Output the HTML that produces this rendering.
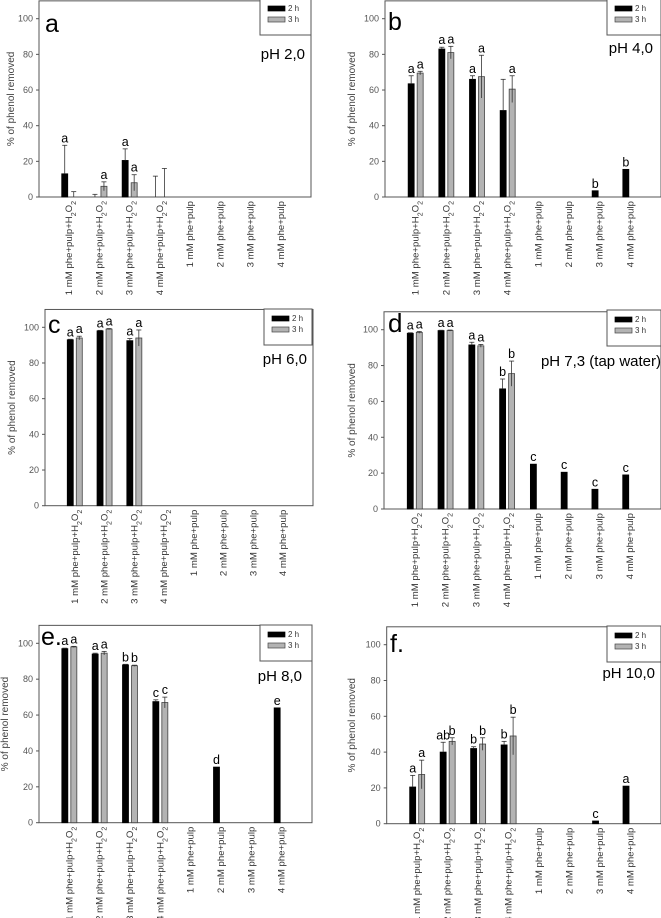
<!DOCTYPE html>
<html><head><meta charset="utf-8"><style>
html,body{margin:0;padding:0;background:#fff;}
svg{display:block;font-family:"Liberation Sans",Arial,sans-serif;}
</style></head><body>
<svg id="fig" width="661" height="918" viewBox="0 0 661 918" xmlns="http://www.w3.org/2000/svg"></svg>
<script>
const categories = ["1 mM phe+pulp+H2O2","2 mM phe+pulp+H2O2","3 mM phe+pulp+H2O2","4 mM phe+pulp+H2O2","1 mM phe+pulp","2 mM phe+pulp","3 mM phe+pulp","4 mM phe+pulp"];
const yTicks = [0,20,40,60,80,100];
const seriesNames = ["2 h","3 h"];

const aVal2h = [13,0,20.5,0,0,0,0,0];
const aErr2h = [16,1.5,6.5,11.7,0,0,0,0];
const aVal3h = [0,6,8,0,0,0,0,0];
const aErr3h = [3,2.5,4.5,16,0,0,0,0];
const aLet2h = ["a","","a","","","","",""];
const aLet3h = ["","a","a","","","","",""];

const bVal2h = [63.5,83,66,48.5,0,0,3.5,15.5];
const bErr2h = [4.5,1,2,17.5,0,0,0,0];
const bVal3h = [69.5,81,67.5,60.5,0,0,0,0];
const bErr3h = [1,3.5,12,7.5,0,0,0,0];
const bLet2h = ["a","a","a","","","","b","b"];
const bLet3h = ["a","a","a","a","","","",""];

const cVal2h = [93,98,92.5,0,0,0,0,0];
const cErr2h = [0.3,0.3,1.2,0,0,0,0,0];
const cVal3h = [94,99,94,0,0,0,0,0];
const cErr3h = [1,0.3,4.5,0,0,0,0,0];
const cLet2h = ["a","a","a","","","","",""];
const cLet3h = ["a","a","a","","","","",""];

const dVal2h = [98,99.5,91.5,67,25,20.5,11,19];
const dErr2h = [0.3,0.2,1.5,5.5,0,0,0,0];
const dVal3h = [98.5,99.5,91,75.5,0,0,0,0];
const dErr3h = [0.5,0.3,0.8,7,0,0,0,0];
const dLet2h = ["a","a","a","b","c","c","c","c"];
const dLet3h = ["a","a","a","b","","","",""];

const eVal2h = [97,94,88,67.5,0,31,0,64];
const eErr2h = [0.3,0.5,0.3,1,0,0,0,0];
const eVal3h = [98,94.5,87.5,67,0,0,0,0];
const eErr3h = [0.3,1,0.3,3,0,0,0,0];
const eLet2h = ["a","a","b","c","","d","","e"];
const eLet3h = ["a","a","b","c","","","",""];

const fVal2h = [20.5,40,42,44,0,0,1.5,21];
const fErr2h = [6.5,5.5,1,2,0,0,0,0];
const fVal3h = [27.5,46,44.5,49,0,0,0,0];
const fErr3h = [8,2,3.5,10.5,0,0,0,0];
const fLet2h = ["a","ab","b","b","","","c","a"];
const fLet3h = ["a","b","b","b","","","",""];

const NS = "http://www.w3.org/2000/svg";
const svg = document.getElementById("fig");
function mk(tag, attrs, parent){
  const e = document.createElementNS(NS, tag);
  for (const k in attrs) e.setAttribute(k, attrs[k]);
  (parent||svg).appendChild(e);
  return e;
}
function catLabel(parent, text, x, y){
  const t = mk("text",{x:x,y:y,transform:"rotate(-90 "+x+" "+y+")","text-anchor":"end","font-size":"9.6",fill:"#333"},parent);
  
  
  if (text.endsWith("H2O2")){
    t.appendChild(document.createTextNode(text.slice(0,-4)+"H"));
    const s1 = mk("tspan",{"baseline-shift":"sub","font-size":"7"},t); s1.textContent="2";
    const o = mk("tspan",{},t); o.textContent="O";
    const s2 = mk("tspan",{"baseline-shift":"sub","font-size":"7"},t); s2.textContent="2";
  } else t.textContent = text;
}

function panel(p){
  const g = mk("g",{});
  
  
  const yS = v => p.y0 - (p.y0 - p.y100) * v / 100;
  const slot = (p.x1 - p.x0) / 9;
  const xS = i => p.x0 + slot * (i + 1);
  const top = yS(110);
  const fr = mk("rect",{x:p.x0,y:top,width:p.x1-p.x0,height:p.y0-top,fill:"none",stroke:"#555","stroke-width":"1"},g);
  
  
  yTicks.forEach(v=>{
    const y = yS(v);
    const tk = mk("line",{x1:p.x0-3,x2:p.x0,y1:y,y2:y,stroke:"#555"},g);
    
    
    const tl = mk("text",{x:p.x0-6,y:y+3,"text-anchor":"end","font-size":"9",fill:"#555"},g);
    
    
    tl.textContent = v;
  });
  const yt = mk("text",{x:p.ytx,y:(p.y0+top)/2,transform:"rotate(-90 "+p.ytx+" "+((p.y0+top)/2)+")","text-anchor":"middle","font-size":"10",fill:"#444"},g);
  
  
  yt.textContent = "% of phenol removed";
  const bw = 6;
  const series = [[p.v2,p.e2,p.l2,"#000",-4.5],[p.v3,p.e3,p.l3,"#b3b3b3",4.5]];
  series.forEach((s,si)=>{
    s[0].forEach((v,i)=>{
      const cx = xS(i) + s[4];
      const yv = yS(v);
      if (v > 0){
        const r = mk("rect",{x:cx-bw/2,y:yv,width:bw,height:p.y0-yv,fill:s[3],stroke:si?"#444":"#000","stroke-width":"0.8"},g);
        
        
      }
      const e = s[1][i];
      let topY = yv;
      if (e > 0){
        const ye = yS(v+e);
        topY = ye;
        const y2 = si && v > 0 ? yS(Math.max(0,v-e)) : yv;
        const el = mk("line",{x1:cx,x2:cx,y1:ye,y2:y2,stroke:"#333","stroke-width":"0.8"},g);
        
        
        const cap = mk("line",{x1:cx-2.5,x2:cx+2.5,y1:ye,y2:ye,stroke:"#333","stroke-width":"0.8"},g);
        
        
      }
      const L = s[2][i];
      if (L){
        const lt = mk("text",{x:cx,y:topY-3,"text-anchor":"middle","font-size":"12.5",fill:"#000"},g);
        
        
        lt.textContent = L;
      }
    });
  });
  categories.forEach((c,i)=>catLabel(g,c,xS(i)+3,p.y0+4));
  const pl = mk("text",{x:p.lx,y:p.ly,"font-size":p.lsize||"25",fill:"#000"},g);
  
  
  pl.textContent = p.letter;
  const ph = mk("text",{x:p.phx,y:p.phy,"text-anchor":"end","font-size":"15",fill:"#000"},g);
  
  
  ph.textContent = p.ph;
  const lg = mk("g",{},g);
  
  
  mk("rect",{x:p.lgx,y:p.lgy,width:p.lgw,height:36,fill:"#fff",stroke:"#555","stroke-width":"1"},lg);
  seriesNames.forEach((n,si)=>{
    const sw = mk("rect",{x:p.lgx+8,y:p.lgy+11+si*11-4,width:17,height:5,fill:si?"#b3b3b3":"#000",stroke:si?"#444":"#000","stroke-width":"0.7"},lg);
    
    
    const tx = mk("text",{x:p.lgx+28,y:p.lgy+11+si*11+1,"font-size":"8",fill:"#333"},lg);
    
    
    tx.textContent = n;
  });
}

panel({id:"a",x0:39,x1:311,y0:197,y100:18.7,ytx:14,v2:aVal2h,e2:aErr2h,v3:aVal3h,e3:aErr3h,l2:aLet2h,l3:aLet3h,letter:"a",lx:45,ly:32,phx:305,phy:59,ph:"pH 2,0",lgx:260,lgy:-1,lgw:51});
panel({id:"b",x0:385,x1:661,y0:197,y100:18.7,ytx:355,v2:bVal2h,e2:bErr2h,v3:bVal3h,e3:bErr3h,l2:bLet2h,l3:bLet3h,letter:"b",lx:388,ly:30,phx:653,phy:53,ph:"pH 4,0",lgx:607,lgy:-1,lgw:54});
panel({id:"c",x0:45,x1:313,y0:505.7,y100:327.3,ytx:15,v2:cVal2h,e2:cErr2h,v3:cVal3h,e3:cErr3h,l2:cLet2h,l3:cLet3h,letter:"c",lx:48,ly:333,phx:307,phy:364,ph:"pH 6,0",lgx:264,lgy:309,lgw:48});
panel({id:"d",x0:384,x1:661,y0:509,y100:329.7,ytx:355,v2:dVal2h,e2:dErr2h,v3:dVal3h,e3:dErr3h,l2:dLet2h,l3:dLet3h,letter:"d",lx:388,ly:332,lsize:"26",phx:661,phy:366,ph:"pH 7,3 (tap water)",lgx:607,lgy:310,lgw:54});
panel({id:"e",x0:39,x1:312,y0:822.7,y100:643.3,ytx:8,v2:eVal2h,e2:eErr2h,v3:eVal3h,e3:eErr3h,l2:eLet2h,l3:eLet3h,letter:"e.",lx:41,ly:645,phx:302,phy:681,ph:"pH 8,0",lgx:260,lgy:625,lgw:52});
panel({id:"f",x0:386.7,x1:661,y0:823.7,y100:644.7,ytx:355,v2:fVal2h,e2:fErr2h,v3:fVal3h,e3:fErr3h,l2:fLet2h,l3:fLet3h,letter:"f.",lx:390,ly:652,phx:655,phy:678,ph:"pH 10,0",lgx:607,lgy:626,lgw:54});
</script>
</body></html>
